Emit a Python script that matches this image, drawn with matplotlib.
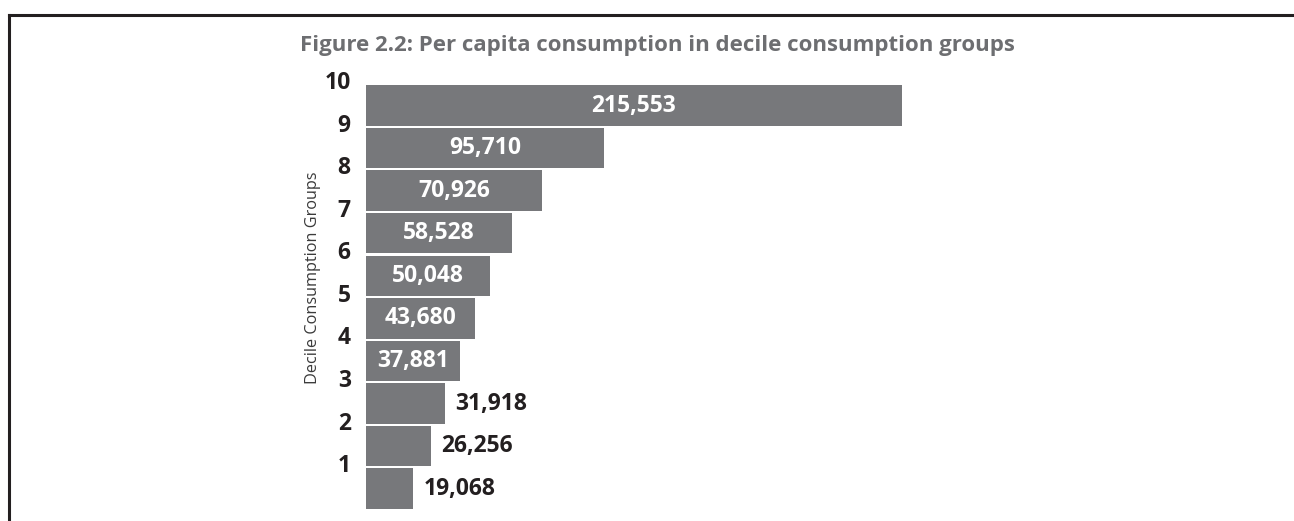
import matplotlib
matplotlib.use("Agg")
import matplotlib.pyplot as plt
from matplotlib.lines import Line2D

groups = ["1", "2", "3", "4", "5", "6", "7", "8", "9", "10"]
values = [19068, 26256, 31918, 37881, 43680, 50048, 58528, 70926, 95710, 215553]
value_labels = ["19,068", "26,256", "31,918", "37,881", "43,680",
                "50,048", "58,528", "70,926", "95,710", "215,553"]
title = "Figure 2.2: Per capita consumption in decile consumption groups"
ylabel = "Decile Consumption Groups"

FONT = ["Open Sans", "DejaVu Sans"]
plt.rcParams["font.family"] = FONT

W, H = 1294, 521
fig = plt.figure(figsize=(W / 100, H / 100), dpi=100)

# axes placement in pixels
x0, x1 = 366, 366 + 250000 * (536 / 215553)
y_top, y_bot = 80, 510
ax = fig.add_axes([x0 / W, (H - y_bot) / H, (x1 - x0) / W, (y_bot - y_top) / H])

pos = list(range(len(values)))
bar_color = "#77787b"
ax.barh(pos, values, height=0.95, color=bar_color)
ax.set_xlim(0, 250000)
ax.set_ylim(-0.5, len(values) - 0.5)

for p, v, lab in zip(pos, values, value_labels):
    if v > 35000:
        ax.text(v / 2, p, lab, ha="center", va="center", color="white",
                fontsize=16.5, fontweight="bold")
    else:
        ax.text(v + 4000, p, lab, ha="left", va="center", color="#231f20",
                fontsize=16.5, fontweight="bold")

ax.set_yticks([p + 0.6 for p in pos])
ax.set_yticklabels(groups, fontsize=16.5, fontweight="bold", color="#231f20")
ax.tick_params(axis="y", length=0, pad=11)
ax.set_xticks([])
for s in ax.spines.values():
    s.set_visible(False)

fig.text(313 / W, 1 - 278 / H, ylabel, rotation=90, ha="center", va="center",
         fontsize=11.7, color="#3a3a3a")

fig.text(657 / W, 1 - 45 / H, title, ha="center", va="center",
         fontsize=16, fontweight="bold", color="#6d6e71")

# frame box lines
bx = 8.5 / W
by = 1 - 14.5 / H
fig.add_artist(Line2D([bx, 1.0], [by, by], transform=fig.transFigure,
                      color="#231f20", lw=2.2))
fig.add_artist(Line2D([bx, bx], [0, by], transform=fig.transFigure,
                      color="#231f20", lw=2.2))

fig.savefig("out.png", dpi=100)
